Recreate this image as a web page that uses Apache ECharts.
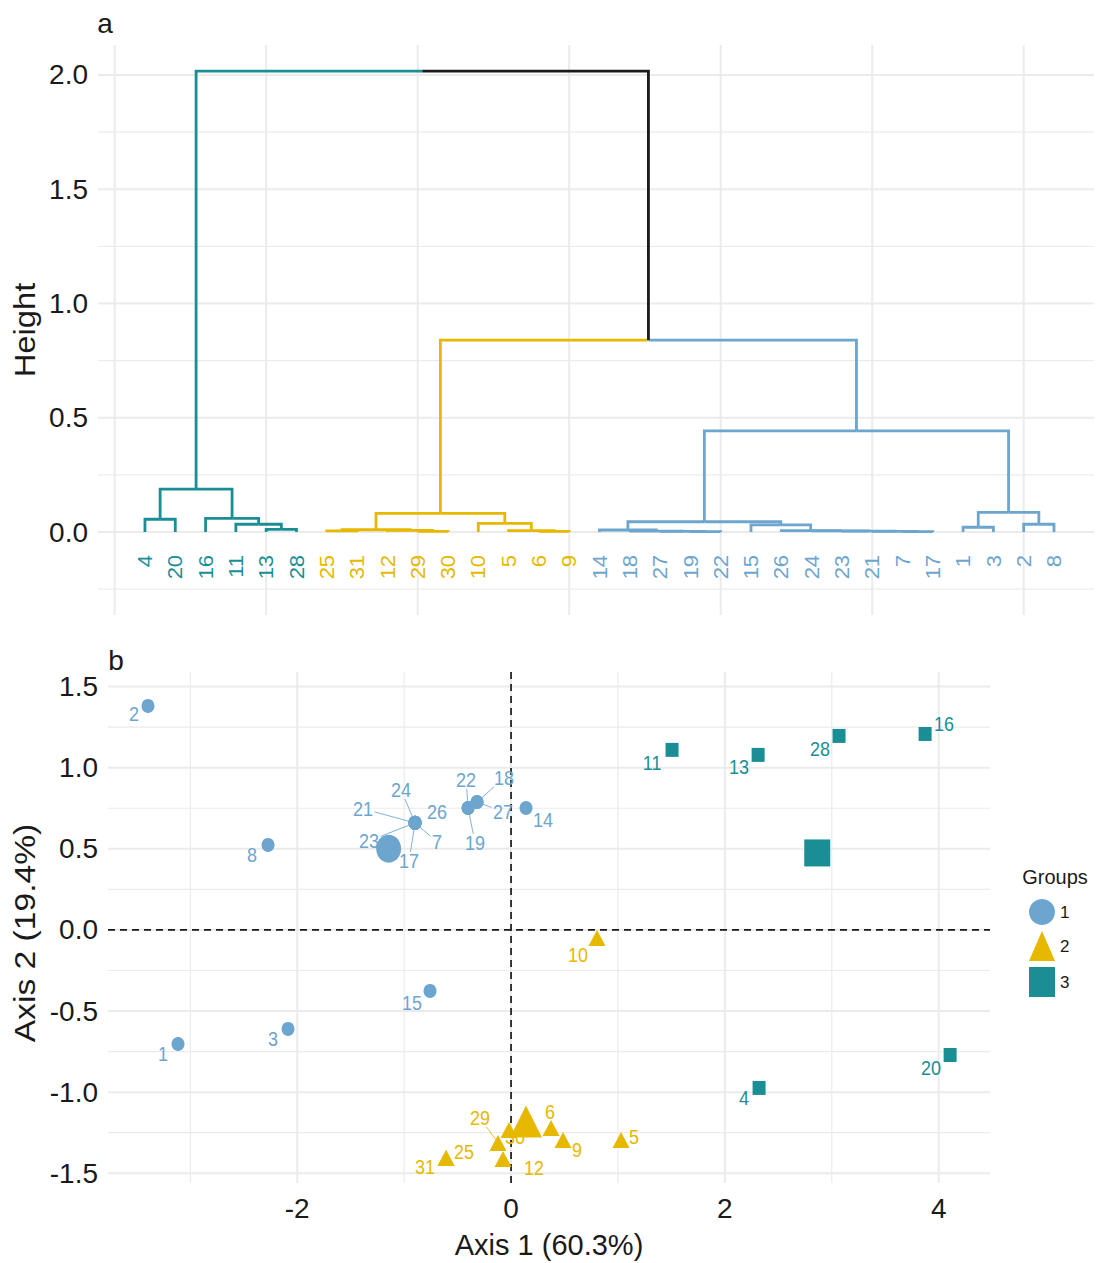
<!DOCTYPE html>
<html><head><meta charset="utf-8">
<script src="https://cdn.jsdelivr.net/npm/echarts@6/dist/echarts.min.js"></script>
<style>html,body{margin:0;padding:0;background:#fff}#c{width:1096px;height:1263px}</style>
</head><body><div id="c"></div>
<script>
// ================= DATA =================
// Dendrogram (panel a): leaf order, merges (negative = leaf id, positive = earlier merge, 1-based)
const leafOrder = [4,20,16,11,13,28,25,31,12,29,30,10,5,6,9,14,18,27,19,22,15,26,24,23,21,7,17,1,3,2,8];
const mergeLeft  = [-13,-11,-16,-4,4,-29,-12,-25,8,-6,-5,-10,9,-19,-27,-18,-14,-7,-21,-23,-24,-26,-15,17,-1,-2,25,24,13,5];
const mergeRight = [-28,1,2,-20,3,-30,6,-31,7,-9,10,11,12,-22,14,15,16,-17,18,19,20,21,22,23,-3,-8,26,27,28,29];
const mergeHeight = [0.012,0.034,0.060,0.056,0.188,0.003,0.007,0.005,0.010,0.003,0.006,0.038,0.082,
                     0.002,0.003,0.004,0.009,0.002,0.003,0.004,0.005,0.006,0.031,0.045,0.021,0.034,0.086,0.443,0.840,2.017];
const heightTicks = [0, 0.5, 1, 1.5, 2];

// Individuals 1..31 (panel b)
const ids = [1,2,3,4,5,6,7,8,9,10,11,12,13,14,15,16,17,18,19,20,21,22,23,24,25,26,27,28,29,30,31];
const cluster = [1,1,1,3,2,2,1,1,2,2,3,2,3,1,1,3,1,1,1,3,1,1,1,1,2,1,1,3,2,2,2];
const axis1 = [-3.115,-3.396,-2.086,2.320,1.029,0.374,-0.898,-2.273,0.486,0.804,1.506,-0.075,2.311,0.140,-0.758,3.873,
               -0.898,-0.318,-0.402,4.107,-0.898,-0.402,-0.898,-0.898,-0.608,-0.898,-0.318,3.068,-0.122,-0.019,-0.608];
const axis2 = [-0.703,1.381,-0.610,-0.974,-1.295,-1.221,0.660,0.524,-1.295,-0.049,1.110,-1.412,1.079,0.752,-0.376,1.208,
               0.660,0.789,0.752,-0.771,0.660,0.752,0.660,0.660,-1.406,0.660,0.789,1.196,-1.313,-1.233,-1.406];
const groups = [1,2,3];
const axis1Ticks = [-2, 0, 2, 4];
const axis2Ticks = [-1.5, -1, -0.5, 0, 0.5, 1, 1.5];

// ================= STYLE / LAYOUT =================
const FONT = '"Liberation Sans", Arial, Helvetica, sans-serif';
const TXT = '#1a1a1a';
const groupColor = {0:'#1a1a1a', 1:'#6CA5CE', 2:'#E7B800', 3:'#1B8E95'};
const groupSymbol = {1:'circle', 2:'triangle', 3:'rect'};
const smallSize = {1:[13,14], 2:[17,16], 3:[13,14]};
const bigSize = {1:[25,28], 2:[32,32], 3:[26,27]};
const leafLabelH = -0.1;
// label placement (pixel offset of label centre from point, and whether a leader segment is drawn)
const labelOffset = {
  1:[-15,10],2:[-14,8],3:[-15,10],8:[-16,10],15:[-18,12],14:[17,12],
  22:[-2,-28,1],18:[27,-24,1],27:[26,10,1],19:[7,35,1],
  21:[-52,-14,1],24:[-14,-33,1],26:[22,-11],7:[22,19,1],23:[-46,18,1],17:[-6,38,1],
  10:[-19,17],5:[13,-3],6:[-1,-16],9:[14,10],29:[-18,-25,1],30:[6,7],12:[31,9],25:[18,-6],31:[-21,9],
  11:[-20,13],13:[-19,12],28:[-19,13],16:[19,-10],20:[-19,13],4:[-15,10]
};
const LABEL_FS = 18;
const DENDRO_W = 2.8;

// ================= BUILD =================
const nodeX = [], nodeH = [], nodeG = [];
function childInfo(c) {
  if (c < 0) { const id = -c; return {x: leafOrder.indexOf(id) + 1, h: 0, g: cluster[id - 1]}; }
  return {x: nodeX[c - 1], h: nodeH[c - 1], g: nodeG[c - 1]};
}
const dendroSegs = [];
for (let k = 0; k < mergeHeight.length; k++) {
  const a = childInfo(mergeLeft[k]), b = childInfo(mergeRight[k]);
  const h = mergeHeight[k];
  nodeX[k] = (a.x + b.x) / 2; nodeH[k] = h; nodeG[k] = (a.g === b.g) ? a.g : 0;
  [a, b].forEach(c => dendroSegs.push({
    coords: [[nodeX[k], h], [c.x, h], [c.x, c.h]],
    lineStyle: {color: groupColor[c.g], width: DENDRO_W, opacity: 1}
  }));
}

function refLines(xi, yi, items, z, styleFn) {
  return {
    type: 'custom', xAxisIndex: xi, yAxisIndex: yi, silent: true, z: z, animation: false,
    data: items,
    renderItem: (params, api) => {
      const cs = params.coordSys;
      const v = api.value(0), o = api.value(1), m = api.value(2);
      let shape;
      if (o === 0) { const x = api.coord([v, 0])[0]; shape = {x1: x, y1: cs.y, x2: x, y2: cs.y + cs.height}; }
      else { const y = api.coord([0, v])[1]; shape = {x1: cs.x, y1: y, x2: cs.x + cs.width, y2: y}; }
      return {type: 'line', shape: shape, style: styleFn(m)};
    }
  };
}
const gridStyle = m => ({stroke: '#EBEBEB', lineWidth: m ? 2 : 1.2});
const gridA = [];
[0,5,10,15,20,25,30].forEach(v => gridA.push([v, 0, 1]));
[-0.25,0,0.25,0.5,0.75,1,1.25,1.5,1.75,2].forEach(v => gridA.push([v, 1, Math.abs(v*2 - Math.round(v*2)) < 1e-9 ? 1 : 0]));
const gridB = [];
[-3,-2,-1,0,1,2,3,4].forEach(v => gridB.push([v, 0, v % 2 === 0 ? 1 : 0]));
[-1.5,-1.25,-1,-0.75,-0.5,-0.25,0,0.25,0.5,0.75,1,1.25,1.5].forEach(v => gridB.push([v, 1, Math.abs(v*2 - Math.round(v*2)) < 1e-9 ? 1 : 0]));

const scatterSeries = groups.map(g => {
  const mem = ids.filter(i => cluster[i - 1] === g);
  const cx = mem.reduce((s, i) => s + axis1[i - 1], 0) / mem.length;
  const cy = mem.reduce((s, i) => s + axis2[i - 1], 0) / mem.length;
  const data = mem.map(i => ({value: [axis1[i - 1], axis2[i - 1]], symbolSize: smallSize[g]}));
  data.push({value: [cx, cy], symbolSize: bigSize[g]});
  return {
    type: 'scatter', name: String(g), xAxisIndex: 1, yAxisIndex: 1, z: 4, silent: true,
    symbol: groupSymbol[g], itemStyle: {color: groupColor[g], opacity: 1},
    emphasis: {disabled: true}, data: data
  };
});

const pointLabels = {
  type: 'custom', xAxisIndex: 1, yAxisIndex: 1, z: 3, silent: true,
  data: ids.map(i => [axis1[i - 1], axis2[i - 1], i, cluster[i - 1]]),
  renderItem: (params, api) => {
    const id = api.value(2), g = api.value(3), col = groupColor[g];
    const p = api.coord([api.value(0), api.value(1)]);
    const off = labelOffset[id];
    const lx = p[0] + off[0], ly = p[1] + off[1];
    const children = [];
    if (off[2]) {
      const w = String(id).length * LABEL_FS * 0.556 / 2 + 1.5, h = LABEL_FS * 0.42 + 1.5;
      const dx = p[0] - lx, dy = p[1] - ly;
      const t = Math.min(dx ? w / Math.abs(dx) : 1e9, dy ? h / Math.abs(dy) : 1e9);
      children.push({type: 'line', shape: {x1: lx + dx * t, y1: ly + dy * t, x2: p[0], y2: p[1]},
        style: {stroke: col, lineWidth: 1, opacity: 0.85}});
    }
    children.push({type: 'text', x: lx, y: ly, scaleY: 1.15, style: {text: String(id), fill: col, font: LABEL_FS + 'px ' + FONT,
      align: 'center', verticalAlign: 'middle', textAlign: 'center', textVerticalAlign: 'middle'}});
    return {type: 'group', children: children};
  }
};

const leafLabels = {
  type: 'custom', xAxisIndex: 0, yAxisIndex: 0, z: 3, silent: true,
  data: leafOrder.map((id, i) => [i + 1, leafLabelH, id, cluster[id - 1]]),
  renderItem: (params, api) => {
    const p = api.coord([api.value(0), api.value(1)]);
    return {type: 'text', x: p[0], y: p[1], rotation: Math.PI / 2, scaleX: 1.1,
      style: {text: String(api.value(2)), fill: groupColor[api.value(3)], font: '20px ' + FONT,
        align: 'right', verticalAlign: 'middle', textAlign: 'right', textVerticalAlign: 'middle'}};
  }
};

const axisLabelBase = {fontSize: 28, color: TXT, fontFamily: FONT};
const option = {
  animation: false,
  backgroundColor: '#ffffff',
  grid: [
    {left: 98, top: 45, width: 996, height: 570},
    {left: 108, top: 672, width: 882, height: 511}
  ],
  xAxis: [
    {gridIndex: 0, type: 'value', min: -0.55, max: 32.32, axisLine: {show: false}, axisTick: {show: false},
     axisLabel: {show: false}, splitLine: {show: false}},
    {gridIndex: 1, type: 'value', min: -3.77, max: 4.48, axisLine: {show: false}, axisTick: {show: false},
     splitLine: {show: false},
     axisLabel: Object.assign({customValues: axis1Ticks, formatter: v => String(v), margin: 11}, axisLabelBase),
     name: 'Axis 1 (60.3%)', nameLocation: 'middle', nameGap: 62,
     nameTextStyle: {fontSize: 29, color: TXT, fontFamily: FONT, verticalAlign: 'middle'}}
  ],
  yAxis: [
    {gridIndex: 0, type: 'value', min: -0.363, max: 2.131, axisLine: {show: false}, axisTick: {show: false},
     splitLine: {show: false},
     axisLabel: Object.assign({customValues: heightTicks, formatter: v => v.toFixed(1), margin: 10}, axisLabelBase)},
    {gridIndex: 1, type: 'value', min: -1.56, max: 1.59, axisLine: {show: false}, axisTick: {show: false},
     splitLine: {show: false},
     axisLabel: Object.assign({customValues: axis2Ticks, formatter: v => v.toFixed(1), margin: 10}, axisLabelBase)}
  ],
  legend: {
    orient: 'vertical', left: 1024, top: 894, itemWidth: 26, itemHeight: 30, itemGap: 6,
    symbolKeepAspect: false, selectedMode: false, data: ['1', '2', '3'],
    textStyle: {fontSize: 17, color: TXT, fontFamily: FONT}
  },
  graphic: [
    {type: 'text', x: 105, y: 23, style: {text: 'a', font: '28px ' + FONT, fill: TXT, align: 'center', verticalAlign: 'middle', textAlign: 'center', textVerticalAlign: 'middle'}},
    {type: 'text', x: 116, y: 660, style: {text: 'b', font: '28px ' + FONT, fill: TXT, align: 'center', verticalAlign: 'middle', textAlign: 'center', textVerticalAlign: 'middle'}},
    {type: 'text', x: 25, y: 330, rotation: Math.PI / 2, scaleX: 1.13, style: {text: 'Height', font: '29px ' + FONT, fill: TXT, align: 'center', verticalAlign: 'middle', textAlign: 'center', textVerticalAlign: 'middle'}},
    {type: 'text', x: 25, y: 933, rotation: Math.PI / 2, scaleX: 1.16, style: {text: 'Axis 2 (19.4%)', font: '29px ' + FONT, fill: TXT, align: 'center', verticalAlign: 'middle', textAlign: 'center', textVerticalAlign: 'middle'}},
    {type: 'text', x: 1055, y: 877, style: {text: 'Groups', font: '20px ' + FONT, fill: TXT, align: 'center', verticalAlign: 'middle', textAlign: 'center', textVerticalAlign: 'middle'}}
  ],
  series: [
    refLines(0, 0, gridA, 0, gridStyle),
    refLines(1, 1, gridB, 0, gridStyle),
    refLines(1, 1, [[0, 0, 1], [0, 1, 1]], 1, () => ({stroke: '#1a1a1a', lineWidth: 1.7, lineDash: [7, 5]})),
    {type: 'lines', coordinateSystem: 'cartesian2d', xAxisIndex: 0, yAxisIndex: 0, polyline: true, silent: true, z: 2,
     lineStyle: {width: DENDRO_W, opacity: 1, curveness: 0, join: 'miter'}, data: dendroSegs},
    leafLabels,
    pointLabels
  ].concat(scatterSeries)
};

const chart = echarts.init(document.getElementById('c'), null, {renderer: 'svg', width: 1096, height: 1263});
chart.setOption(option);
</script></body></html>
